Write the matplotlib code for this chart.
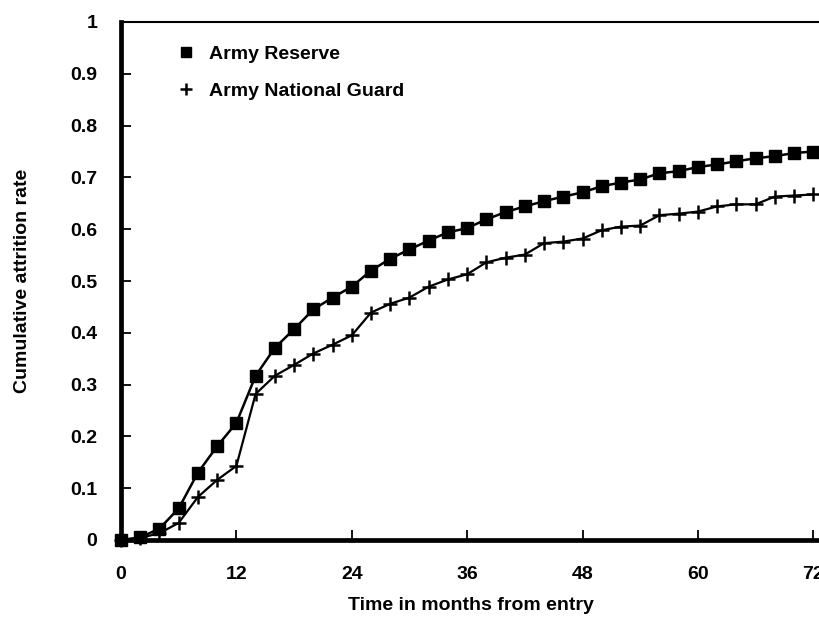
import matplotlib
matplotlib.use("Agg")
import matplotlib.pyplot as plt
from matplotlib.lines import Line2D

plt.rcParams['font.family'] = ['Liberation Sans', 'DejaVu Sans']
plt.rcParams['font.weight'] = 'bold'
plt.rcParams['axes.labelweight'] = 'bold'

# months since entry, sampled every 2 months
months = list(range(0, 73, 2))

reserve = [0.0, 0.005, 0.022, 0.061, 0.130, 0.181, 0.226, 0.317, 0.371, 0.407,
           0.445, 0.468, 0.489, 0.520, 0.543, 0.561, 0.578, 0.594, 0.602, 0.619,
           0.633, 0.644, 0.654, 0.663, 0.671, 0.683, 0.690, 0.696, 0.708, 0.712,
           0.720, 0.725, 0.731, 0.737, 0.741, 0.747, 0.750]

guard = [0.0, 0.004, 0.013, 0.033, 0.083, 0.116, 0.143, 0.282, 0.317, 0.338,
         0.360, 0.377, 0.395, 0.439, 0.456, 0.468, 0.489, 0.503, 0.513, 0.536,
         0.545, 0.551, 0.573, 0.576, 0.582, 0.598, 0.605, 0.607, 0.627, 0.630,
         0.634, 0.644, 0.648, 0.648, 0.663, 0.665, 0.667]

xticks = [0, 12, 24, 36, 48, 60, 72]
yticks = [0, 0.1, 0.2, 0.3, 0.4, 0.5, 0.6, 0.7, 0.8, 0.9, 1]
ytick_labels = ['0', '0.1', '0.2', '0.3', '0.4', '0.5', '0.6', '0.7', '0.8', '0.9', '1']

fig = plt.figure(figsize=(8.2, 6.24), dpi=100)
ax = fig.add_axes([121 / 820, 84 / 624, 1 - 121 / 820, 518 / 624])

ax.plot(months, reserve, color='black', lw=1.8, marker='s', ms=8.5,
        clip_on=False, zorder=3)
ax.plot(months, guard, color='black', lw=1.6, marker='+', ms=10, mew=1.8,
        clip_on=False, zorder=3)

ax.set_xlim(0, 72.7)
ax.set_ylim(0, 1)
ax.set_xticks(xticks)
ax.set_yticks(yticks)
ax.set_yticklabels(ytick_labels)

ax.spines['right'].set_visible(False)
ax.spines['left'].set_linewidth(3.4)
ax.spines['bottom'].set_linewidth(3.4)
ax.spines['top'].set_linewidth(1.5)

ax.tick_params(direction='in', length=7, width=1.3, labelsize=14, color='black')
ax.tick_params(axis='x', pad=19)
ax.tick_params(axis='y', pad=17)

ax.set_xlabel('Time in months from entry', fontsize=14, labelpad=10)
ax.set_ylabel('Cumulative attrition rate', fontsize=14, labelpad=28)

handles = [
    Line2D([], [], color='black', ls='none', marker='s', ms=7),
    Line2D([], [], color='black', ls='none', marker='+', ms=9, mew=1.8),
]
ax.legend(handles, ['Army Reserve', 'Army National Guard'],
          loc='upper left', bbox_to_anchor=(176 / 820, 1 - 45 / 624),
          bbox_transform=fig.transFigure, frameon=False, fontsize=14,
          handlelength=1.0, handletextpad=0.7, labelspacing=1.0,
          borderaxespad=0, borderpad=0)

fig.savefig('out.png', dpi=100)
